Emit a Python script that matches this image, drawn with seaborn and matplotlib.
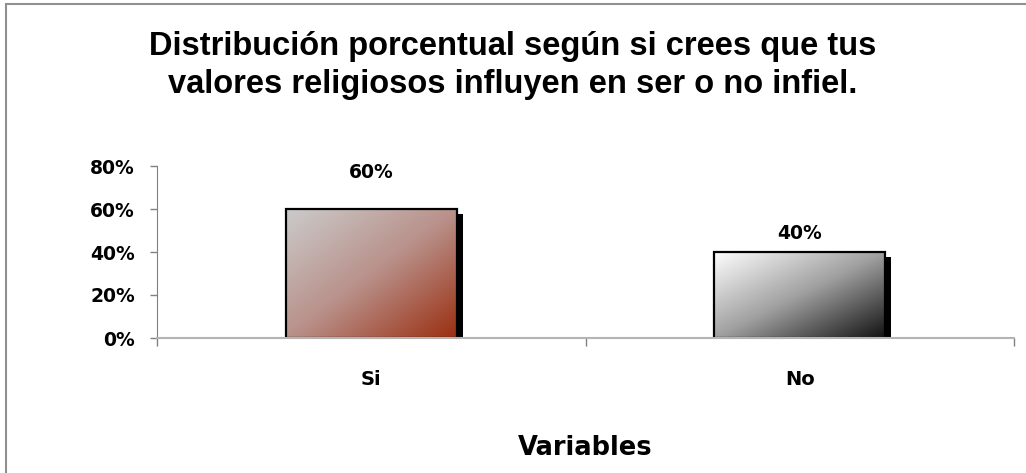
import matplotlib
matplotlib.use("Agg")
import matplotlib.pyplot as plt
import matplotlib.transforms as mtransforms
from matplotlib.patches import Rectangle
from matplotlib.colors import LinearSegmentedColormap
from matplotlib.ticker import PercentFormatter, FixedLocator
import seaborn as sns
import numpy as np
import pandas as pd

# Datos
categorias = ["Si", "No"]
porcentajes = [0.60, 0.40]
etiquetas = ["60%", "40%"]
titulo = ("Distribución porcentual según si crees que tus\n"
          "valores religiosos influyen en ser o no infiel.")
eje_x = "Variables"

df = pd.DataFrame({"categoria": categorias, "valor": porcentajes})

sns.set_style("white")
plt.rcParams["font.family"] = ["DejaVu Sans"]
plt.rcParams["text.color"] = "black"
plt.rcParams["xtick.color"] = "black"
plt.rcParams["ytick.color"] = "black"
plt.rcParams["axes.labelcolor"] = "black"

fig = plt.figure(figsize=(10.26, 4.73), dpi=100)
ax = fig.add_axes([157 / 1026, 1 - 338 / 473, (1014 - 157) / 1026, (338 - 166) / 473])

sns.barplot(data=df, x="categoria", y="valor", width=0.4, ax=ax,
            facecolor="none", edgecolor="black", linewidth=1.6, zorder=3)

# degradados diagonales y sombras
grad_si = LinearSegmentedColormap.from_list("si", ["#cbcbcb", "#b9918a", "#9a2e10"])
grad_no = LinearSegmentedColormap.from_list("no", ["#ffffff", "#a0a0a0", "#111111"])
gx, gy = np.meshgrid(np.linspace(0, 1, 200), np.linspace(0, 1, 200))
grad = (gx + gy) / 2  # arriba-izquierda claro -> abajo-derecha oscuro

desplaza = mtransforms.ScaledTranslation(6 / 100, -5 / 100, fig.dpi_scale_trans)
desplaz_label = [26.6, 13]
for patch, cmap, texto, off in zip(ax.patches, [grad_si, grad_no], etiquetas, desplaz_label):
    x0, y0 = patch.get_x(), patch.get_y()
    w, h = patch.get_width(), patch.get_height()
    sombra = Rectangle((x0, y0), w, h, facecolor="black", edgecolor="none",
                       transform=ax.transData + desplaza, zorder=1)
    ax.add_patch(sombra)
    im = ax.imshow(grad, cmap=cmap, extent=[x0, x0 + w, y0, y0 + h],
                   origin="upper", aspect="auto", zorder=2)
    im.set_clip_path(patch)
    ax.annotate(texto, (x0 + w / 2, y0 + h), xytext=(0, off),
                textcoords="offset points", ha="center", va="center",
                fontsize=13.5, fontweight="bold", color="black")

ax.set_xlim(-0.5, 1.5)
ax.set_ylim(0, 0.8)
ax.yaxis.set_major_locator(FixedLocator([0, 0.2, 0.4, 0.6, 0.8]))
ax.yaxis.set_major_formatter(PercentFormatter(1.0, decimals=0))
ax.xaxis.set_minor_locator(FixedLocator([-0.5, 0.5, 1.5]))

ax.tick_params(axis="y", length=5, width=1, color="#808080", pad=11,
               labelsize=13.5, left=True)
ax.tick_params(axis="x", which="major", length=0, pad=23, labelsize=14)
ax.tick_params(axis="x", which="minor", length=5.5, width=1, color="#808080",
               bottom=True)
for lab in ax.get_xticklabels() + ax.get_yticklabels():
    lab.set_fontweight("bold")

ax.set_xlabel(eje_x, fontsize=18.5, fontweight="bold", labelpad=33)
ax.set_ylabel("")

sns.despine(ax=ax)
ax.spines["left"].set_color("#808080")
ax.spines["bottom"].set_color("#b4b4b4")
ax.spines["bottom"].set_linewidth(1.5)
ax.spines["bottom"].set_zorder(4)

fig.text(0.5, 1 - 65.5 / 473, titulo, ha="center", va="center", color="black",
         fontsize=23.5, fontweight="bold", family=["Liberation Sans", "DejaVu Sans"],
         linespacing=1.3)

# marco del gráfico
marco = Rectangle((6 / 1026, -0.1), 1.2, 1 - 4 / 473 + 0.1, transform=fig.transFigure,
                  facecolor="none", edgecolor="#909090", linewidth=1.5)
fig.add_artist(marco)

fig.savefig("out.png", dpi=100)
